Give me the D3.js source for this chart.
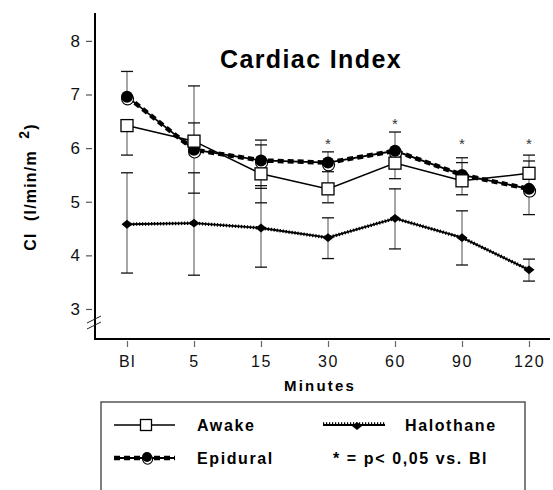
<!DOCTYPE html>
<html>
<head>
<meta charset="utf-8">
<script src="https://cdn.jsdelivr.net/npm/d3@7"></script>
<style>
  html, body { margin: 0; padding: 0; background: #fff; }
  svg { display: block; font-family: "Liberation Sans", Arial, sans-serif; }
</style>
</head>
<body>
<div id="chart"></div>
<script>
const minutes = ["Bl", "5", "15", "30", "60", "90", "120"];
const yTicks = [3, 4, 5, 6, 7, 8];

const awake = [6.42, 6.13, 5.52, 5.24, 5.72, 5.39, 5.53];
const epidural = [6.96, 5.97, 5.77, 5.73, 5.95, 5.50, 5.24];
const halothane = [4.58, 4.60, 4.51, 4.33, 4.69, 4.33, 3.73];

// one-sided SD bars, null where the bar is not drawn
const awakeHi = [null, 6.47, 6.06, 5.56, null, 5.73, 5.87];
const awakeLo = [5.87, 5.16, 5.25, 4.98, 5.43, 5.13, null];
const epiduralHi = [7.43, 7.16, 6.15, 5.93, 6.30, 5.82, 5.76];
const epiduralLo = [null, null, 4.98, null, null, null, 4.76];
const halothaneHi = [5.54, 5.54, 5.30, 4.70, 5.24, 4.83, 3.93];
const halothaneLo = [3.67, 3.63, 3.78, 3.94, 4.12, 3.82, 3.52];

// significance stars (p < 0.05 vs. Bl)
const starAt = [null, null, null, 6.12, 6.49, 6.12, 6.12];

const W = 553, H = 490;
const svg = d3.select("#chart").append("svg").attr("width", W).attr("height", H);

const x = d3.scalePoint().domain(minutes).range([127, 529]);
const y = d3.scaleLinear().domain([2.44, 8.52]).range([339, 13]);

// axes
const yAxis = svg.append("g")
    .attr("transform", "translate(92,0)")
    .call(d3.axisLeft(y).tickValues(yTicks).tickFormat(d3.format("d"))
      .tickSize(6).tickPadding(6).tickSizeOuter(0));
yAxis.select(".domain").remove();
yAxis.selectAll("line").attr("stroke", "#555").attr("stroke-width", 1.2);
yAxis.selectAll("text").style("font-size", "17px").attr("fill", "#111");

const xAxis = svg.append("g")
    .attr("transform", "translate(0,341)")
    .call(d3.axisBottom(x).tickSize(6).tickPadding(9).tickSizeOuter(0));
xAxis.select(".domain").remove();
xAxis.selectAll("line").attr("stroke", "#666").attr("stroke-width", 1.2);
xAxis.selectAll("text").style("font-size", "16px").style("letter-spacing", "1.5px").attr("fill", "#111");

svg.append("line").attr("x1", 95).attr("x2", 95).attr("y1", 13).attr("y2", 340)
    .attr("stroke", "#000").attr("stroke-width", 2);
svg.append("line").attr("x1", 94).attr("x2", 550).attr("y1", 339).attr("y2", 339)
    .attr("stroke", "#000").attr("stroke-width", 2);

// axis break
[0, 6].forEach(o => {
  svg.append("line").attr("x1", 87).attr("y1", 323 + o).attr("x2", 101).attr("y2", 316 + o)
      .attr("stroke", "#222").attr("stroke-width", 1);
});

// labels
svg.append("text").attr("x", 311).attr("y", 68).attr("text-anchor", "middle")
    .style("font-size", "25px").style("font-weight", "bold").style("letter-spacing", "1.4px")
    .text("Cardiac Index");

svg.append("text").attr("x", 320).attr("y", 391).attr("text-anchor", "middle")
    .style("font-size", "15px").style("font-weight", "bold").style("letter-spacing", "2.2px")
    .text("Minutes");

const yl = svg.append("text").attr("transform", "translate(36,187) rotate(-90)")
    .attr("text-anchor", "middle")
    .style("font-size", "16px").style("font-weight", "bold").style("letter-spacing", "1.2px")
    .attr("xml:space", "preserve");
yl.append("tspan").text("CI  (l/min/m  ");
yl.append("tspan").attr("dy", -7).style("font-size", "14px").text("2");
yl.append("tspan").attr("dy", 7).text(")");

// error bars
const bars = [];
[[awake, awakeHi, awakeLo], [epidural, epiduralHi, epiduralLo], [halothane, halothaneHi, halothaneLo]]
  .forEach(([mid, hi, lo]) => {
    minutes.forEach((m, i) => {
      if (hi[i] != null) bars.push({ m, from: mid[i], to: hi[i] });
      if (lo[i] != null) bars.push({ m, from: mid[i], to: lo[i] });
    });
  });

const eb = svg.append("g");
eb.selectAll("line.v").data(bars).join("line").attr("class", "v")
    .attr("x1", d => x(d.m)).attr("x2", d => x(d.m))
    .attr("y1", d => y(d.from)).attr("y2", d => y(d.to))
    .attr("stroke", "#777").attr("stroke-width", 1.3);
eb.selectAll("line.cap").data(bars).join("line").attr("class", "cap")
    .attr("x1", d => x(d.m) - 6).attr("x2", d => x(d.m) + 6)
    .attr("y1", d => y(d.to)).attr("y2", d => y(d.to))
    .attr("stroke", "#111").attr("stroke-width", 1.3);

// stars
svg.append("g").selectAll("text").data(minutes.map((m, i) => ({ m, v: starAt[i] })).filter(d => d.v != null))
  .join("text")
    .attr("x", d => x(d.m)).attr("y", d => y(d.v) + 7)
    .attr("text-anchor", "middle").style("font-size", "15px").attr("fill", "#333")
    .text("*");

const line = d3.line().x(d => x(d.m)).y(d => y(d.v));
const pts = arr => minutes.map((m, i) => ({ m, v: arr[i] }));

// halothane: thin line with dotted thick overlay
svg.append("path").attr("d", line(pts(halothane))).attr("fill", "none")
    .attr("stroke", "#000").attr("stroke-width", 1.8);
svg.append("path").attr("d", line(pts(halothane))).attr("fill", "none")
    .attr("stroke", "#000").attr("stroke-width", 3.5).attr("stroke-dasharray", "1.2,1.8");

// epidural: thin line with dashed thick overlay
svg.append("path").attr("d", line(pts(epidural))).attr("fill", "none")
    .attr("stroke", "#000").attr("stroke-width", 1.8);
svg.append("path").attr("d", line(pts(epidural))).attr("fill", "none")
    .attr("stroke", "#000").attr("stroke-width", 4.5).attr("stroke-dasharray", "6,4");

// awake
svg.append("path").attr("d", line(pts(awake))).attr("fill", "none")
    .attr("stroke", "#000").attr("stroke-width", 1.5);

function diamond(g, cx, cy, s) {
  g.append("path").attr("d", `M${cx},${cy - s * 0.8}L${cx + s},${cy}L${cx},${cy + s * 0.8}L${cx - s},${cy}Z`)
      .attr("fill", "#000");
}
function epiMarker(g, cx, cy, r) {
  g.append("circle").attr("cx", cx + 0.6).attr("cy", cy + 2.2).attr("r", r)
      .attr("fill", "#fff").attr("stroke", "#000").attr("stroke-width", 1.1);
  g.append("circle").attr("cx", cx).attr("cy", cy).attr("r", r).attr("fill", "#000");
}
function square(g, cx, cy, s) {
  g.append("rect").attr("x", cx - s / 2).attr("y", cy - s / 2).attr("width", s).attr("height", s)
      .attr("fill", "#fff").attr("stroke", "#000").attr("stroke-width", 1.3);
}

const mk = svg.append("g");
pts(halothane).forEach(d => diamond(mk, x(d.m), y(d.v), 5.5));
pts(epidural).forEach(d => epiMarker(mk, x(d.m), y(d.v), 6));
pts(awake).forEach(d => square(mk, x(d.m), y(d.v), 12));

// legend
const lg = svg.append("g");
lg.append("rect").attr("x", 101).attr("y", 402).attr("width", 424).attr("height", 100)
    .attr("fill", "none").attr("stroke", "#555").attr("stroke-width", 1.5);

lg.append("line").attr("x1", 114).attr("x2", 175).attr("y1", 425).attr("y2", 425)
    .attr("stroke", "#000").attr("stroke-width", 1.5);
square(lg, 146, 425, 11);

lg.append("line").attr("x1", 114).attr("x2", 175).attr("y1", 458).attr("y2", 458)
    .attr("stroke", "#000").attr("stroke-width", 1.8);
lg.append("line").attr("x1", 114).attr("x2", 175).attr("y1", 458).attr("y2", 458)
    .attr("stroke", "#000").attr("stroke-width", 4.5).attr("stroke-dasharray", "6,4");
epiMarker(lg, 147, 457, 5);

lg.append("line").attr("x1", 323).attr("x2", 385).attr("y1", 425).attr("y2", 425)
    .attr("stroke", "#000").attr("stroke-width", 1.8);
lg.append("line").attr("x1", 323).attr("x2", 385).attr("y1", 424).attr("y2", 424)
    .attr("stroke", "#000").attr("stroke-width", 3.5).attr("stroke-dasharray", "1.2,1.8");
diamond(lg, 357, 426, 5);

const legendText = [
  { x: 197, y: 431, t: "Awake" },
  { x: 197, y: 464, t: "Epidural" },
  { x: 405, y: 431, t: "Halothane" },
  { x: 333, y: 464, t: "* = p< 0,05 vs. Bl" }
];
lg.selectAll("text").data(legendText).join("text")
    .attr("x", d => d.x).attr("y", d => d.y)
    .style("font-size", "16px").style("font-weight", "bold").style("letter-spacing", "1.6px")
    .text(d => d.t);
</script>
</body>
</html>
